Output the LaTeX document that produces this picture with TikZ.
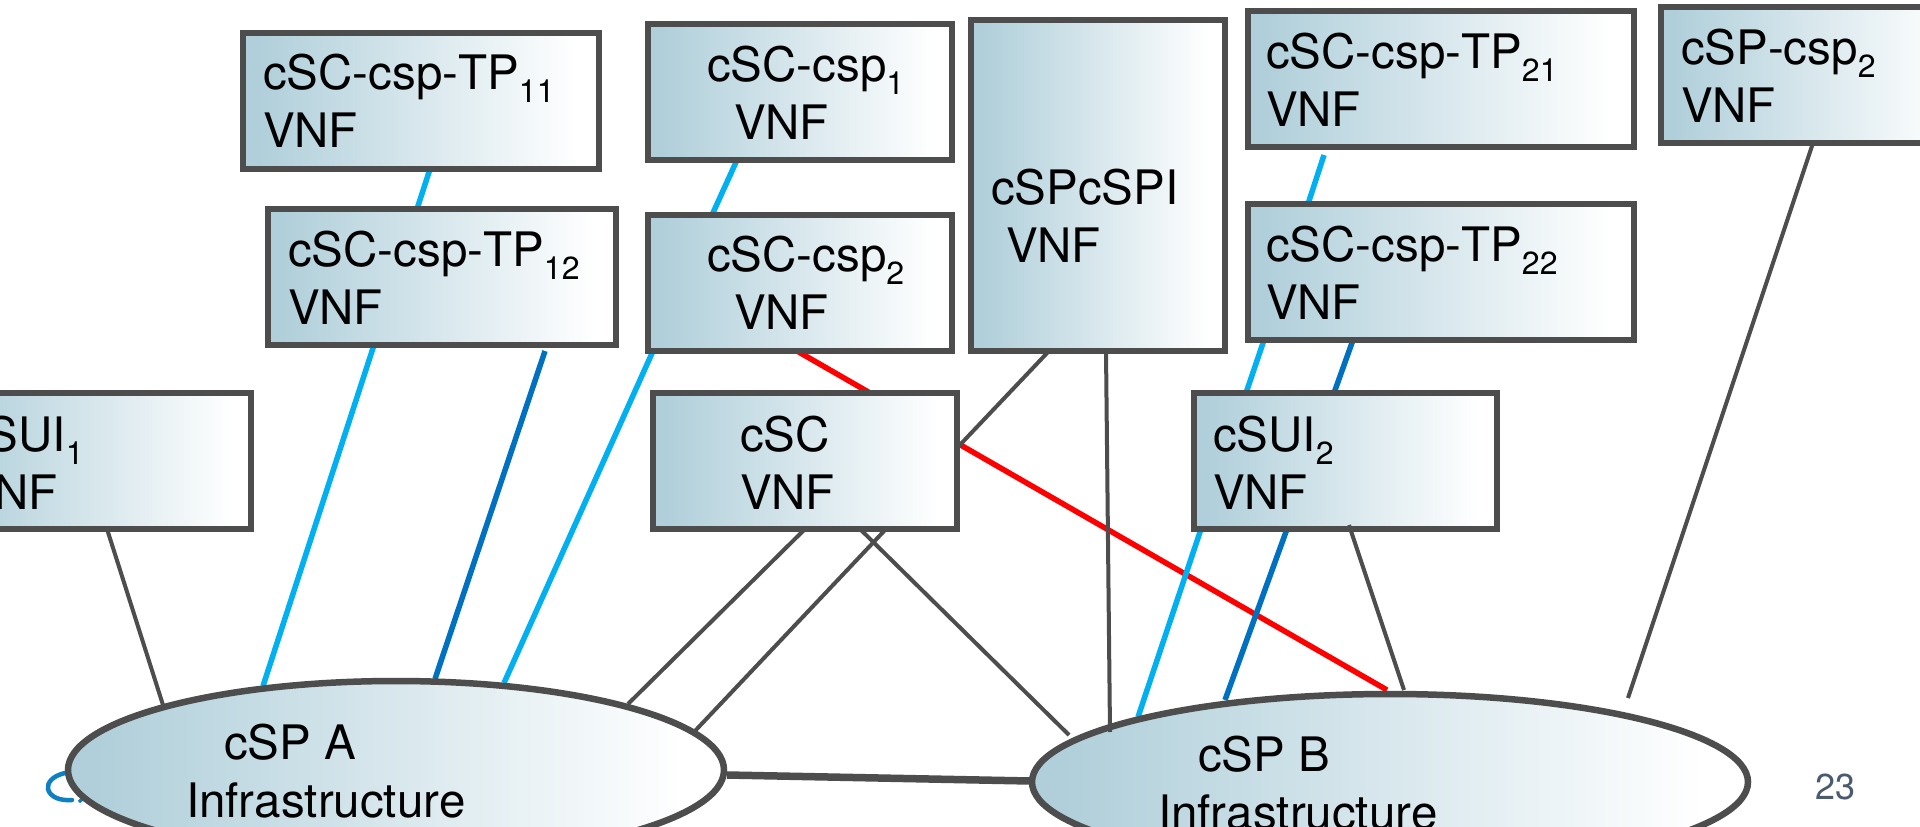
\documentclass[tikz,border=0pt]{standalone}
\usepackage{fontspec}
\setmainfont[Kerning=Off]{TeX Gyre Heros}
\usetikzlibrary{shapes.geometric,backgrounds}
\definecolor{edgegrey}{HTML}{4D4D4D}
\definecolor{gradstart}{HTML}{B0CFDA}
\definecolor{lightblue}{HTML}{00B0F0}
\definecolor{darkblue}{HTML}{0070C0}
\definecolor{logoblue}{HTML}{0F7FC4}
\definecolor{pagenum}{HTML}{4A5B70}
\pgfdeclarehorizontalshading{boxgrad}{100bp}{color(0bp)=(gradstart); color(27bp)=(gradstart); color(72bp)=(white); color(100bp)=(white)}
\tikzset{
  x=1pt, y=-1pt,
  vnfbox/.style={rectangle, draw=edgegrey, line width=6.5pt, shading=boxgrad, inner sep=0pt, outer sep=0pt, minimum height=136pt},
  infra/.style={ellipse, draw=edgegrey, line width=6.5pt, shading=boxgrad, inner sep=0pt, outer sep=0pt},
  lbl/.style={anchor=base west, inner sep=0pt, outer sep=0pt, align=left, text=black, font=\fontsize{47.5}{58}\selectfont},
  lightlink/.style={draw=lightblue, line width=5.5pt},
  darklink/.style={draw=darkblue, line width=5.5pt},
  redlink/.style={draw=red, line width=5.5pt},
  greylink/.style={draw=edgegrey, line width=4pt},
  thicklink/.style={draw=edgegrey, line width=7.5pt},
}
\newcommand{\subtxt}[1]{\raisebox{-13pt}{\fontsize{32}{32}\selectfont #1}}
\begin{document}
\begin{tikzpicture}
\useasboundingbox (0,0) rectangle (1920,827);
% shapes
\node[vnfbox, minimum width=303pt] (sui1) at (99.5,461) {};
\node[vnfbox, minimum width=356pt] (tp11) at (421,101) {};
\node[vnfbox, minimum width=348pt] (tp12) at (442,277) {};
\node[vnfbox, minimum width=304pt] (csp1) at (800,92) {};
\node[vnfbox, minimum width=304pt] (csp2) at (800,283) {};
\node[vnfbox, minimum width=304pt] (csc) at (805,461) {};
\node[vnfbox, minimum width=254pt, minimum height=331pt] (cspi) at (1098,185.5) {};
\node[vnfbox, minimum width=386pt] (tp21) at (1441,79) {};
\node[vnfbox, minimum width=386pt] (tp22) at (1441,272) {};
\node[vnfbox, minimum width=303pt] (sui2) at (1345.5,461) {};
\node[vnfbox, minimum width=304pt] (sp2) at (1813,75) {};
\node[infra, minimum width=656pt, minimum height=178pt] (ifa) at (396,770) {};
\node[infra, minimum width=716pt, minimum height=176pt] (ifb) at (1390,782) {};
\coordinate (freeend) at (1628,698);
% logo fragment and connectors behind the shapes
\begin{pgfonlayer}{background}
\fill[white] (0,0) rectangle (1920,827);
\draw[logoblue, line width=4.5pt, line cap=round] (65,773) .. controls (52,776) and (47,783) .. (48,789) .. controls (50,797) and (60,801) .. (72,800);
\draw[logoblue, line width=3.5pt] (79,802) .. controls (83,797) and (86,797) .. (92,800);
\draw[lightlink] ([shift={(187,0)}]tp11.south west) -- ([shift={(149,0)}]tp12.north west);
\draw[lightlink] ([shift={(106,0)}]tp12.south west) -- ([shift={(-133,-84)}]ifa.center);
\draw[darklink] ([shift={(277,6)}]tp12.south west) -- ([shift={(39,-91)}]ifa.center);
\draw[lightlink] ([shift={(89,0)}]csp1.south west) -- ([shift={(64,0)}]csp2.north west);
\draw[lightlink] ([shift={(5,0)}]csp2.south west) -- ([shift={(108,-87)}]ifa.center);
\draw[redlink] ([shift={(149,0)}]csp2.south west) -- ([shift={(-3,-92)}]ifb.center);
\draw[greylink] ([shift={(159,0)}]sui1.south west) -- ([shift={(-233,-65)}]ifa.center);
\draw[greylink] ([shift={(152,0)}]csc.south west) -- ([shift={(232,-66)}]ifa.center);
\draw[greylink] ([shift={(233,0)}]csc.south west) -- ([shift={(298,-38)}]ifa.center);
\draw[greylink] ([shift={(207,0)}]csc.south west) -- ([shift={(-321,-47)}]ifb.center);
\draw[greylink] ([shift={(78,0)}]cspi.south west) -- ([shift={(0,-13)}]csc.east);
\draw[lightlink] ([shift={(76,8)}]tp21.south west) -- ([shift={(60,0)}]tp22.north west);
\draw[lightlink] ([shift={(16,0)}]tp22.south west) -- ([shift={(52,0)}]sui2.north west);
\draw[darklink] ([shift={(105,0)}]tp22.south west) -- ([shift={(140,0)}]sui2.north west);
\draw[lightlink] ([shift={(7,0)}]sui2.south west) -- ([shift={(-252,-65)}]ifb.center);
\draw[darklink] ([shift={(93,0)}]sui2.south west) -- ([shift={(-165,-82)}]ifb.center);
\draw[greylink] ([shift={(152,0)}]sp2.south west) -- (freeend);
\draw[thicklink] ([shift={(331,5)}]ifa.center) -- ([shift={(-360,-1)}]ifb.center);
\end{pgfonlayer}
% connectors over the shapes
\draw[greylink] ([shift={(135,0)}]cspi.south west) -- ([shift={(-280,-50)}]ifb.center);
\draw[greylink] ([shift={(155,-4)}]sui2.south west) -- ([shift={(14,-92)}]ifb.center);
% labels
\node[lbl] (tsui1) at (-37,509) {cSUI\subtxt{1}\\VNF};
\node[lbl] (ttp11) at (263,147.5) {cSC-csp-TP\subtxt{11}\\VNF};
\node[lbl] (ttp12) at (288,324) {cSC-csp-TP\subtxt{12}\\VNF};
\node[lbl] (tcsp1) at (707,139) {cSC-csp\subtxt{1}\\\hspace*{27pt}VNF};
\node[lbl] (tcsp2) at (707,329.5) {cSC-csp\subtxt{2}\\\hspace*{27pt}VNF};
\node[lbl] (tcsc) at (740,509) {cSC\\VNF};
\node[lbl] (tcspi) at (991,262) {cSPcSPI\\\hspace*{15pt}VNF};
\node[lbl] (ttp21) at (1266,126) {cSC-csp-TP\subtxt{21}\\VNF};
\node[lbl] (ttp22) at (1266,319) {cSC-csp-TP\subtxt{22}\\VNF};
\node[lbl] (tsui2) at (1213,509) {cSUI\subtxt{2}\\VNF};
\node[lbl] (tsp2) at (1681,122) {cSP-csp\subtxt{2}\\VNF};
\node[lbl] (tifa) at (186,817) {\hspace*{38pt}cSP A\\Infrastructure};
\node[lbl] (tifb) at (1158,829) {\hspace*{40pt}cSP B\\Infrastructure};
\node[anchor=base, inner sep=0pt, text=pagenum, font=\fontsize{36}{36}\selectfont] (pg) at (1835,799) {23};
\end{tikzpicture}
\end{document}
